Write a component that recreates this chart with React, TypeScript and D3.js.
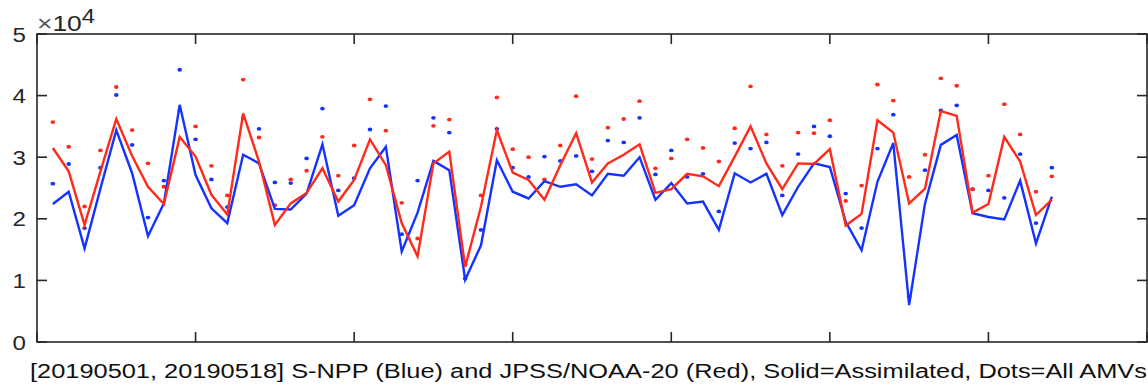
import React from "react";
import * as d3 from "d3";

// index 1..64 (x positions), values in units of 1e4
const idx = d3.range(1, 65);
const blueLine = [2.24, 2.44, 1.52, 2.49, 3.44, 2.74, 1.72, 2.25, 3.85, 2.71, 2.17, 1.93, 3.04, 2.90, 2.16, 2.15, 2.41, 3.21, 2.05, 2.22, 2.82, 3.17, 1.47, 2.10, 2.94, 2.79, 1.01, 1.57, 2.95, 2.44, 2.33, 2.61, 2.52, 2.56, 2.38, 2.73, 2.70, 3.00, 2.31, 2.58, 2.25, 2.28, 1.82, 2.74, 2.59, 2.73, 2.06, 2.52, 2.90, 2.84, 1.95, 1.49, 2.60, 3.23, 0.60, 2.25, 3.20, 3.36, 2.09, 2.03, 1.99, 2.62, 1.60, 2.36];
const redLine = [3.15, 2.77, 1.90, 2.77, 3.62, 3.02, 2.52, 2.24, 3.33, 3.01, 2.39, 2.07, 3.71, 2.93, 1.90, 2.25, 2.42, 2.82, 2.28, 2.63, 3.29, 2.87, 1.93, 1.39, 2.90, 3.09, 1.22, 2.20, 3.44, 2.75, 2.63, 2.31, 2.87, 3.39, 2.59, 2.90, 3.04, 3.21, 2.42, 2.48, 2.73, 2.69, 2.53, 3.01, 3.50, 2.90, 2.48, 2.90, 2.89, 3.13, 1.89, 2.08, 3.60, 3.40, 2.25, 2.49, 3.75, 3.67, 2.10, 2.24, 3.33, 2.93, 2.06, 2.31];
const blueDots = [2.57, 2.89, 1.85, 2.83, 4.01, 3.20, 2.02, 2.62, 4.42, 3.29, 2.64, 2.19, 3.64, 3.46, 2.59, 2.58, 2.98, 3.79, 2.46, 2.66, 3.45, 3.83, 1.75, 2.62, 3.64, 3.40, 1.03, 1.82, 3.46, 2.83, 2.68, 3.01, 2.94, 3.02, 2.77, 3.27, 3.24, 3.64, 2.72, 3.11, 2.68, 2.73, 2.12, 3.23, 3.14, 3.24, 2.38, 3.05, 3.50, 3.34, 2.41, 1.85, 3.14, 3.69, 0.74, 2.79, 3.76, 3.84, 2.48, 2.46, 2.34, 3.05, 1.93, 2.83];
const redDots = [3.57, 3.17, 2.20, 3.11, 4.14, 3.44, 2.90, 2.52, 3.76, 3.50, 2.86, 2.38, 4.26, 3.32, 2.22, 2.64, 2.78, 3.33, 2.70, 3.19, 3.94, 3.43, 2.26, 1.68, 3.51, 3.61, 1.26, 2.38, 3.97, 3.13, 3.00, 2.64, 3.19, 3.99, 2.97, 3.48, 3.62, 3.91, 2.82, 2.98, 3.29, 3.15, 2.93, 3.47, 4.15, 3.37, 2.86, 3.40, 3.39, 3.60, 2.29, 2.54, 4.18, 3.92, 2.68, 3.04, 4.28, 4.16, 2.48, 2.70, 3.86, 3.37, 2.44, 2.69];
const xTicks = [0, 10, 20, 30, 40, 50, 60, 70];
const yTicks = [0, 1, 2, 3, 4, 5];
const caption = "[20190501, 20190518] S-NPP (Blue) and JPSS/NOAA-20 (Red), Solid=Assimilated, Dots=All AMVs";

const BLUE = "#1533ff";
const RED = "#ff2a1a";
const AX = "#262626";

export default function App() {
  const W = 1148, H = 386;
  const L = 37, R = 1147, T = 34, B = 342;
  const x = d3.scaleLinear().domain([0, 70]).range([L, R]);
  const y = d3.scaleLinear().domain([0, 5]).range([B, T]);
  const line = d3.line<number>().x((_, i) => x(idx[i])).y((d) => y(d));
  const tl = 10;
  return (
    <svg width={W} height={H} style={{ position: "absolute", left: 0, top: 0, background: "#fff" }}
      fontFamily="'Liberation Sans', Arial, Helvetica, sans-serif">
      <rect x={0} y={0} width={W} height={H} fill="#fff" />
      {blueDots.map((d, i) => (
        <ellipse key={"bd" + i} cx={x(idx[i])} cy={y(d)} rx={2.3} ry={1.9} fill={BLUE} />
      ))}
      {redDots.map((d, i) => (
        <ellipse key={"rd" + i} cx={x(idx[i])} cy={y(d)} rx={2.3} ry={1.9} fill={RED} />
      ))}
      <path d={line(blueLine) || ""} fill="none" stroke={BLUE} strokeWidth={2.4} strokeLinejoin="miter" />
      <path d={line(redLine) || ""} fill="none" stroke={RED} strokeWidth={2.4} strokeLinejoin="miter" />
      <rect x={L} y={T} width={R - L} height={B - T} fill="none" stroke={AX} strokeWidth={1.6} />
      {xTicks.map((t) => (
        <g key={"xt" + t}>
          <line x1={x(t)} x2={x(t)} y1={B} y2={B - tl} stroke={AX} strokeWidth={1.6} />
          <line x1={x(t)} x2={x(t)} y1={T} y2={T + tl} stroke={AX} strokeWidth={1.6} />
        </g>
      ))}
      {yTicks.map((t) => (
        <g key={"yt" + t}>
          <line x1={L} x2={L + tl} y1={y(t)} y2={y(t)} stroke={AX} strokeWidth={1.6} />
          <line x1={R} x2={R - tl} y1={y(t)} y2={y(t)} stroke={AX} strokeWidth={1.6} />
          <text transform={`translate(26,${y(t) + 7.5}) scale(1.15,1)`} textAnchor="end" fontSize={21} fill={AX}>{t}</text>
        </g>
      ))}
      <text transform="translate(37,31) scale(1.2,1)" fontSize={22} fill={AX}>
        <tspan fill="#555">×</tspan>10<tspan dy={-8} fontSize={20}>4</tspan>
      </text>
      <text x={30} y={378} textLength={1117} lengthAdjust="spacingAndGlyphs" fontSize={19.5} fill="#111">{caption}</text>
    </svg>
  );
}
